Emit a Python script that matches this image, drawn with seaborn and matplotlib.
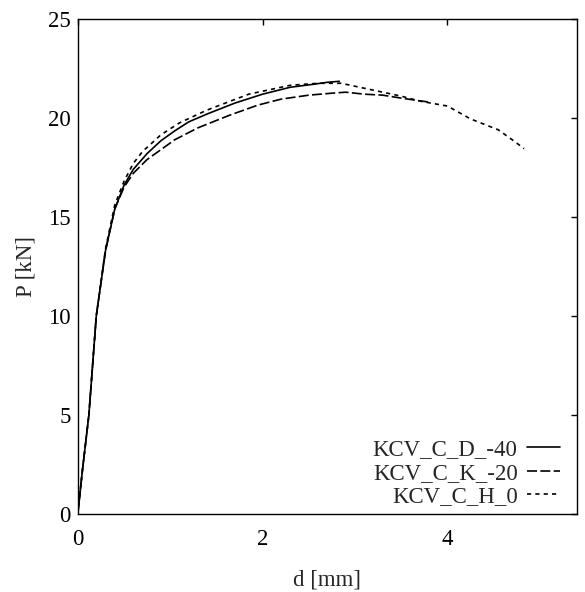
import pandas as pd
import seaborn as sns
import matplotlib.pyplot as plt

sns.set_style("white")
plt.rcParams['font.family'] = ['Liberation Serif', 'DejaVu Serif']

# ==== curve data
d_D40 = [0, 0.05, 0.12, 0.2, 0.3, 0.4, 0.5, 0.6, 0.75, 0.9, 1.05, 1.2, 1.4, 1.7, 2.0, 2.3, 2.55, 2.7, 2.83]
P_D40 = [0, 2.2, 5.0, 10.0, 13.3, 15.4, 16.6, 17.4, 18.2, 18.85, 19.35, 19.8, 20.2, 20.75, 21.2, 21.55, 21.7, 21.8, 21.85]

d_K20 = [0, 0.05, 0.12, 0.2, 0.3, 0.4, 0.5, 0.6, 0.75, 0.9, 1.05, 1.3, 1.65, 1.95, 2.2, 2.5, 2.75, 2.9, 3.1, 3.3, 3.5, 3.65, 3.8]
P_K20 = [0, 2.2, 5.0, 10.0, 13.3, 15.4, 16.5, 17.2, 17.9, 18.4, 18.9, 19.5, 20.15, 20.65, 20.95, 21.15, 21.25, 21.3, 21.2, 21.15, 21.0, 20.9, 20.8]

d_H0 = [0, 0.05, 0.12, 0.2, 0.3, 0.4, 0.5, 0.6, 0.7, 0.9, 1.1, 1.4, 1.85, 2.3, 2.6, 2.85, 3.0, 3.3, 3.5, 3.7, 4.0, 4.25, 4.55, 4.7, 4.83]
P_H0 = [0, 2.2, 5.0, 10.0, 13.4, 15.6, 16.8, 17.7, 18.3, 19.15, 19.75, 20.4, 21.2, 21.65, 21.75, 21.75, 21.6, 21.3, 21.1, 20.85, 20.6, 19.95, 19.4, 18.9, 18.45]

labels = ["KCV_C_D_-40", "KCV_C_K_-20", "KCV_C_H_0"]
curves = [(d_D40, P_D40), (d_K20, P_K20), (d_H0, P_H0)]
styles = [None, (6, 2), (2.5, 2.5)]

fig = plt.figure(figsize=(5.85, 5.92), dpi=100)
ax = fig.add_axes([0.133, 0.132, 0.853, 0.836])

for lab, (d, P), dash in zip(labels, curves, styles):
    df = pd.DataFrame({"d": d, "P": P})
    if dash is None:
        sns.lineplot(x="d", y="P", data=df, ax=ax, color="black", lw=1.2,
                     sort=False, estimator=None, label=lab)
    else:
        sns.lineplot(x="d", y="P", data=df, ax=ax, color="black", lw=1.2,
                     sort=False, estimator=None, label=lab, dashes=dash)

ax.set_xlim(0, 5.4)
ax.set_ylim(0, 25)
ax.set_xticks([0, 2, 4])
ax.set_yticks([0, 5, 10, 15, 20, 25])
ax.tick_params(direction="in", length=4, width=1, top=True, right=True,
               labelsize=16.5, colors="black")
ax.tick_params(axis="x", pad=11)
ax.tick_params(axis="y", pad=5)
for s in ax.spines.values():
    s.set_color("black")
    s.set_linewidth(1)
ax.set_xlabel("d [mm]", fontsize=16.5, labelpad=14)
ax.set_ylabel("P [kN]", fontsize=16.5, labelpad=8)

leg = ax.legend(loc="lower right", bbox_to_anchor=(0.98, 0.0), frameon=False,
                markerfirst=False, fontsize=16.5,
                handlelength=1.45, handletextpad=0.4, labelspacing=0.1,
                borderaxespad=0.0, borderpad=0.3)

fig.savefig("out.png", dpi=100)
